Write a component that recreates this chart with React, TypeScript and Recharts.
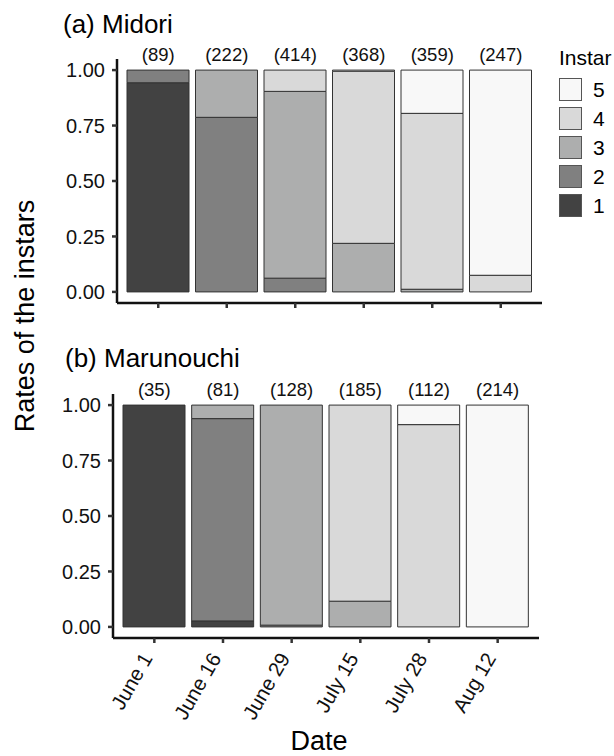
import { BarChart, Bar, XAxis, YAxis, ReferenceDot } from 'recharts';

const dates = ['June 1', 'June 16', 'June 29', 'July 15', 'July 28', 'Aug 12'];
const instars = ['1', '2', '3', '4', '5'];

// sample sizes shown above bars
const midoriN = [89, 222, 414, 368, 359, 247];
const marunouchiN = [35, 81, 128, 185, 112, 214];

// proportion of each instar per date
const midori1 = [0.943, 0, 0, 0, 0, 0];
const midori2 = [0.057, 0.787, 0.062, 0, 0, 0];
const midori3 = [0, 0.213, 0.842, 0.219, 0.012, 0];
const midori4 = [0, 0, 0.096, 0.776, 0.793, 0.075];
const midori5 = [0, 0, 0, 0.005, 0.195, 0.925];

const maru1 = [1, 0.027, 0, 0, 0, 0];
const maru2 = [0, 0.912, 0.008, 0, 0, 0];
const maru3 = [0, 0.061, 0.992, 0.116, 0, 0];
const maru4 = [0, 0, 0, 0.884, 0.912, 0];
const maru5 = [0, 0, 0, 0, 0.088, 1];

const yTicks = [0, 0.25, 0.5, 0.75, 1];

const fills = ['#424242', '#808080', '#adaeae', '#d9d9d9', '#f8f8f8'];
const font = '"Liberation Sans", Arial, Helvetica, sans-serif';

function toRows(series: number[][]) {
  return dates.map((date, i) => {
    const row: any = { date };
    series.forEach((s, k) => {
      row['i' + (k + 1)] = s[i];
    });
    return row;
  });
}

const midoriData = toRows([midori1, midori2, midori3, midori4, midori5]);
const maruData = toRows([maru1, maru2, maru3, maru4, maru5]);

function DateTick(props: any) {
  const { x, y, payload } = props;
  const tx = x - 1;
  const ty = y + 13;
  return (
    <text
      x={tx}
      y={ty}
      transform={`rotate(-60, ${tx}, ${ty})`}
      textAnchor="end"
      fontSize={20.5}
      fontFamily={font}
      fill="#111"
    >
      {payload.value}
    </text>
  );
}

// top panel keeps its tick marks but has no labels
function NoLabel() {
  return <g />;
}

function Panel({
  data,
  counts,
  height,
  margin,
  showDates,
}: {
  data: any[];
  counts: number[];
  height: number;
  margin: { top: number; right: number; bottom: number; left: number };
  showDates: boolean;
}) {
  return (
    <BarChart width={614} height={height} data={data} margin={margin}>
      <XAxis
        dataKey="date"
        padding={{ left: 7, right: 7 }}
        axisLine={{ stroke: '#111', strokeWidth: 2.5 }}
        tickLine={{ stroke: '#333', strokeWidth: 2.5 }}
        tickSize={5}
        tickMargin={2}
        height={showDates ? 90 : 12}
        interval={0}
        tick={showDates ? <DateTick /> : <NoLabel />}
      />
      <YAxis
        type="number"
        domain={[-0.05, 1.05]}
        allowDataOverflow
        ticks={yTicks}
        tickFormatter={(v: number) => v.toFixed(2)}
        width={60}
        axisLine={{ stroke: '#111', strokeWidth: 2.5 }}
        tickLine={{ stroke: '#333', strokeWidth: 2.5 }}
        tickSize={5}
        tickMargin={7}
        tick={{ fill: '#111', fontSize: 20, fontFamily: font }}
      />
      {instars.map((k, idx) => (
        <Bar
          key={k}
          dataKey={'i' + k}
          stackId="a"
          fill={fills[idx]}
          stroke="#333"
          strokeWidth={1}
          barSize={62}
          isAnimationActive={false}
        />
      ))}
      {dates.map((d, i) => (
        <ReferenceDot
          key={d}
          x={d}
          y={1}
          r={1}
          fill="none"
          stroke="none"
          label={{
            value: `(${counts[i]})`,
            position: 'top',
            offset: 8,
            fill: '#111',
            fontSize: 18.5,
            fontFamily: font,
          }}
        />
      ))}
    </BarChart>
  );
}

export default function App() {
  return (
    <div style={{ position: 'absolute', left: 0, top: 0, width: 614, height: 756, background: '#fff' }}>
      <div style={{ position: 'absolute', left: 0, top: 0 }}>
        <Panel
          data={midoriData}
          counts={midoriN}
          height={320}
          margin={{ top: 59, right: 72, bottom: 5, left: 57 }}
          showDates={false}
        />
      </div>
      <div style={{ position: 'absolute', left: 0, top: 330 }}>
        <Panel
          data={maruData}
          counts={marunouchiN}
          height={426}
          margin={{ top: 64, right: 75, bottom: 28, left: 53 }}
          showDates={true}
        />
      </div>
      <svg
        width={614}
        height={756}
        style={{ position: 'absolute', left: 0, top: 0, pointerEvents: 'none' }}
        fontFamily={font}
      >
        <text x={63} y={33} fontSize={26} fill="#000">
          (a) Midori
        </text>
        <text x={65} y={367} fontSize={26} fill="#000">
          (b) Marunouchi
        </text>
        <text transform="translate(33.5, 316) rotate(-90)" textAnchor="middle" fontSize={27} fill="#000">
          Rates of the instars
        </text>
        <text x={319} y={750} textAnchor="middle" fontSize={27} fill="#000">
          Date
        </text>
        <text x={559} y={65} fontSize={21} fill="#000">
          Instar
        </text>
        {[...instars].reverse().map((k, j) => (
          <g key={k}>
            <rect
              x={559.5}
              y={78.5 + 29 * j}
              width={22}
              height={22}
              fill={fills[Number(k) - 1]}
              stroke="#555"
              strokeWidth={1}
            />
            <text x={593} y={97 + 29 * j} fontSize={21} fill="#000">
              {k}
            </text>
          </g>
        ))}
      </svg>
    </div>
  );
}
